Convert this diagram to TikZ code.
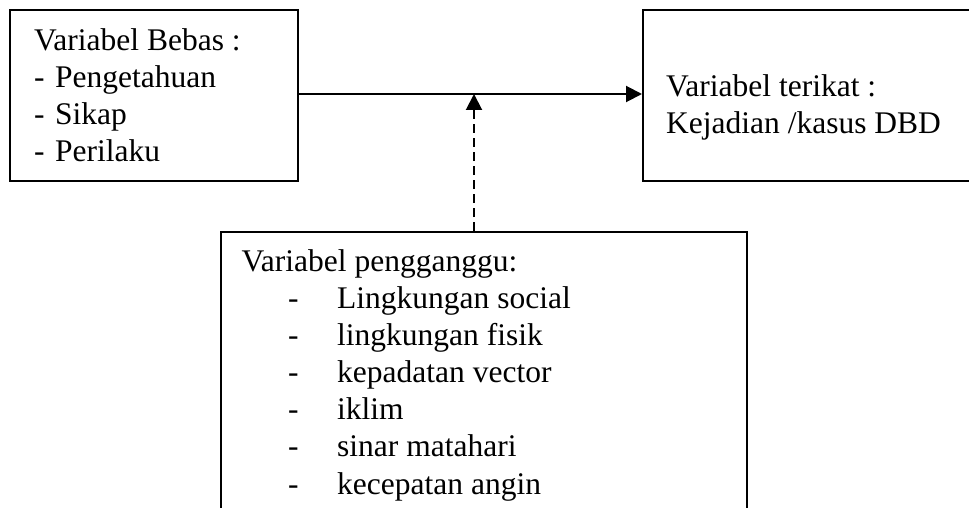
\documentclass[tikz,border=0pt]{standalone}
\usepackage{fontspec}
\setmainfont{Liberation Serif}
\usetikzlibrary{arrows.meta}

\begin{document}
\begin{tikzpicture}[x=1pt, y=-1pt,
    box/.style={draw, line width=2pt, minimum width=#1},
    txt/.style={anchor=base west, inner sep=0pt, font=\fontsize{31.5}{37}\selectfont},
    tip/.style={-{Triangle[length=16pt, width=16pt]}, line width=2pt}]
    \useasboundingbox (0,0) rectangle (969,508);
    \clip (0,0) rectangle (969,508);
    \node [box=288pt, minimum height=171pt] (bebas) at (154,95.5) {};
    \node [box=347pt, minimum height=171pt] (terikat) at (816.5,95.5) {};
    \node [box=526pt, minimum height=298pt] (ganggu) at (484,381) {};
    \coordinate (join) at (474,94);
    \draw [tip] (bebas.east |- join)--(terikat.west |- join);
    \draw [tip, dash pattern=on 9pt off 5pt] (ganggu.north -| join)--(join);
    \node [txt] (bebasjudul) at (34,50.5) {Variabel Bebas :};
    \foreach \entry [count=\i] in {Pengetahuan, Sikap, Perilaku} {
      \node [txt] (bebasstrip\i) at (34,50.5+37*\i) {-};
      \node [txt] (bebas\i) at (55,50.5+37*\i) {\entry};
    }
    \node [txt] (terikatjudul) at (666,96.7) {Variabel terikat :};
    \node [txt] (terikat1) at (666,133.2) {Kejadian /kasus DBD};
    \node [txt] (ganggujudul) at (241.5,271.7) {Variabel pengganggu:};
    \foreach \entry [count=\i] in {Lingkungan social, lingkungan fisik, kepadatan vector, iklim, sinar matahari, kecepatan angin} {
      \node [txt] (ganggustrip\i) at (288,271.7+37.05*\i) {-};
      \node [txt] (ganggu\i) at (337,271.7+37.05*\i) {\entry};
    }
\end{tikzpicture}
\end{document}
